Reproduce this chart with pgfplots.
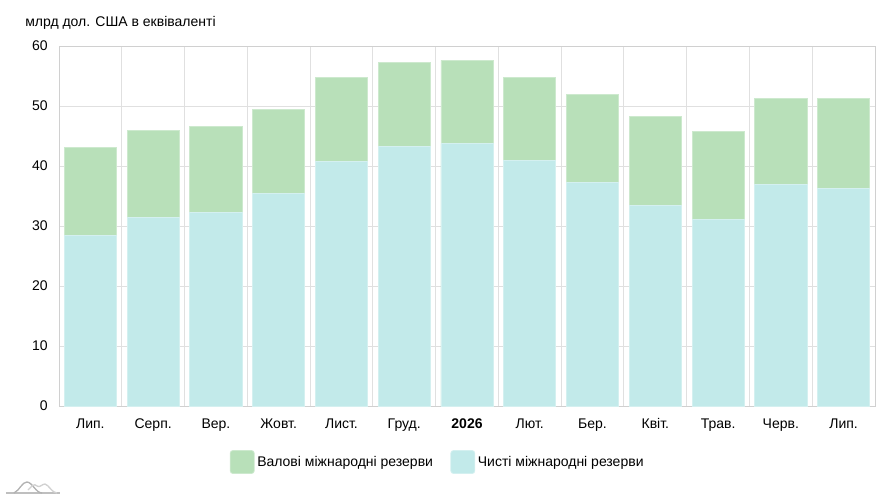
\documentclass[border=0pt]{standalone}
\usepackage{pgfplots}
\pgfplotsset{compat=1.18}
\usepackage{fontspec}
\setmainfont{Liberation Sans}
\definecolor{grossc}{HTML}{B8E0B9}
\definecolor{netc}{HTML}{C2EAEA}
\definecolor{gridc}{HTML}{E0E0E0}
\definecolor{framec}{HTML}{D0D0D0}
\begin{document}
\begin{tikzpicture}
\useasboundingbox (-44.25pt,-70.5pt) rectangle (624pt,304.5pt);
\begin{axis}[
  scale only axis, width=612pt, height=270pt,
  xmin=-0.5, xmax=12.5, ymin=0, ymax=60,
  ytick={0,10,...,60},
  xtick={0,...,12},
  xticklabels={Лип.,Серп.,Вер.,Жовт.,Лист.,Груд.,\textbf{2026},Лют.,Бер.,Квіт.,Трав.,Черв.,Лип.},
  minor xtick={0.5,1.5,...,11.5},
  xminorgrids=true, ymajorgrids=true,
  major tick length=0pt, minor tick length=0pt,
  grid style={gridc, line width=0.75pt},
  minor grid style={gridc, line width=0.75pt},
  axis line style={framec, line width=0.75pt},
  tick label style={font=\fontsize{10.5pt}{12pt}\selectfont, text=black},
  yticklabel style={xshift=-5pt},
  xticklabel style={yshift=-6pt},
  /pgf/number format/assume math mode=true,
  legend style={at={(0.4645,-0.1556)}, anchor=center, draw=none,
    font=\fontsize{10.5pt}{12pt}\selectfont, legend columns=2,
    /tikz/every even column/.append style={column sep=11pt},
    inner sep=0pt},
  legend image code/.code={\fill[#1, rounded corners=2pt] (0pt,-8.6pt) rectangle (18pt,8.6pt);},
  legend cell align=left,
]
\addplot[ybar, bar shift=0pt, bar width=0.83, fill=grossc, draw=grossc!70!white, line width=0.6pt]
  coordinates {(0,43.05) (1,46.0) (2,46.6) (3,49.5) (4,54.7) (5,57.2) (6,57.6) (7,54.7) (8,51.9) (9,48.2) (10,45.7) (11,51.2) (12,51.2)};
\addlegendentry{Валові міжнародні резерви}
\addplot[ybar, bar shift=0pt, bar width=0.83, fill=netc, draw=netc!70!white, line width=0.6pt]
  coordinates {(0,28.4) (1,31.5) (2,32.3) (3,35.4) (4,40.7) (5,43.3) (6,43.7) (7,41.0) (8,37.2) (9,33.5) (10,31.1) (11,37.0) (12,36.3)};
\addlegendentry{Чисті міжнародні резерви}
\end{axis}
\begin{scope}[shift={(-44.25pt,304.5pt)}, x=0.75pt, y=-0.75pt]
\node[anchor=base west, inner sep=0pt, font=\fontsize{10.5pt}{12pt}\selectfont] at (25,27) {млрд дол. США в еквіваленті};
\draw[black!25, line width=1pt] (6,493) -- (60,493);
\draw[black!30, line width=1pt] (14,493) .. controls (20,490) and (22,482) .. (27,482) .. controls (32,482) and (36,493) .. (42,493);
\draw[black!18, line width=1pt] (28,490) .. controls (32,486) and (34,483) .. (37,486) .. controls (40,488) and (42,484) .. (45,484) .. controls (49,485) and (52,493) .. (57,493);
\end{scope}
\end{tikzpicture}
\end{document}
